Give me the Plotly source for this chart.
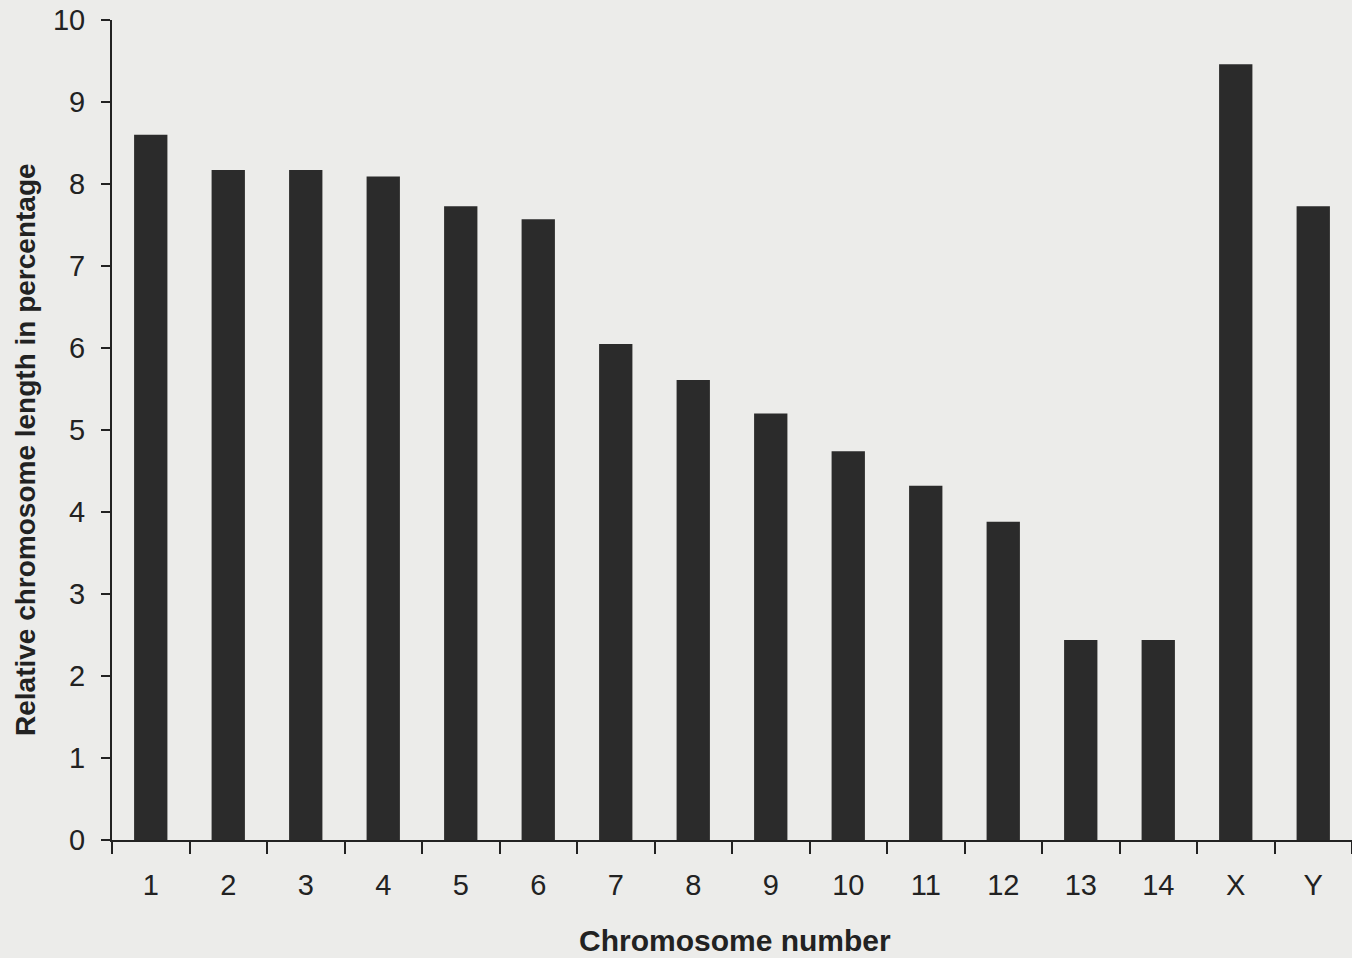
import plotly.graph_objects as go

categories = ["1", "2", "3", "4", "5", "6", "7", "8", "9", "10", "11", "12", "13", "14", "X", "Y"]
relative_length = [8.6, 8.17, 8.17, 8.09, 7.73, 7.57, 6.05, 5.61, 5.2, 4.74, 4.32, 3.88, 2.44, 2.44, 9.46, 7.73]
y_ticks = [0, 1, 2, 3, 4, 5, 6, 7, 8, 9, 10]
x_title = "Chromosome number"
y_title = "Relative chromosome length in percentage"

fig = go.Figure(go.Bar(
    x=categories, y=relative_length,
    marker=dict(color="#2b2b2b", line=dict(width=0)),
))

ink = "#222222"
L, R, T, B = 112, 0, 20, 118
pw, ph = 1352 - L - R, 958 - T - B
fig.update_layout(
    width=1352, height=958,
    margin=dict(l=L, r=R, t=T, b=B),
    paper_bgcolor="#ececea", plot_bgcolor="#ececea",
    bargap=0.57,
    showlegend=False,
    font=dict(family="Liberation Sans, Arial, sans-serif", color=ink),
    annotations=[
        dict(text="<b>" + x_title + "</b>", xref="paper", yref="paper",
             x=(735 - L) / pw, y=(958 - B - 940) / ph,
             xanchor="center", yanchor="middle", showarrow=False, font=dict(size=30, color=ink)),
        dict(text="<b>" + y_title + "</b>", xref="paper", yref="paper",
             x=(25 - L) / pw, y=(958 - B - 450) / ph,
             xanchor="center", yanchor="middle", textangle=-90, showarrow=False, font=dict(size=28, color=ink)),
    ],
)
fig.update_xaxes(
    type="category",
    showline=True, linecolor=ink, linewidth=2,
    ticks="outside", ticklen=12, tickwidth=2, tickcolor=ink,
    tickson="boundaries", ticklabelstandoff=18,
    tickfont=dict(size=29, color=ink),
    showgrid=False,
)
fig.update_yaxes(
    range=[0, 10], tickvals=y_ticks,
    showline=True, linecolor=ink, linewidth=2,
    ticks="outside", ticklen=9, tickwidth=2, tickcolor=ink,
    ticklabelstandoff=10,
    tickfont=dict(size=29, color=ink),
    showgrid=False, zeroline=False,
)

fig.write_html("out.html", config={"displayModeBar": False},
               post_script="document.body.style.margin='0';document.body.style.background='#ececea';")
